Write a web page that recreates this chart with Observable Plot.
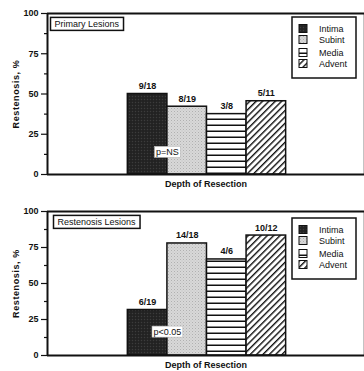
<!DOCTYPE html>
<html><head><meta charset="utf-8">
<script src="https://cdn.jsdelivr.net/npm/d3@7"></script>
<script src="https://cdn.jsdelivr.net/npm/@observablehq/plot@0.6"></script>
<style>
body{margin:0;background:#fff;}
#chart{width:364px;height:371px;overflow:hidden;}
#chart svg{display:block;}
</style></head><body>
<svg width="0" height="0" style="position:absolute">
<defs>
  <pattern id="p-intima" width="3" height="3" patternUnits="userSpaceOnUse">
    <rect width="3" height="3" fill="#262626"/>
    <rect x="0" y="0" width="1" height="1" fill="#3c3c3c"/>
    <rect x="1.5" y="1.5" width="1" height="1" fill="#141414"/>
  </pattern>
  <pattern id="p-subint" width="3" height="3" patternUnits="userSpaceOnUse">
    <rect width="3" height="3" fill="#d8d8d8"/>
    <rect x="0" y="0" width="1" height="1" fill="#b0b0b0"/>
    <rect x="1.5" y="1.5" width="1" height="1" fill="#c0c0c0"/>
  </pattern>
  <pattern id="p-media" width="6" height="6" patternUnits="userSpaceOnUse">
    <rect width="6" height="6" fill="#fff"/>
    <rect x="0" y="4.5" width="6" height="1.6" fill="#111"/>
  </pattern>
  <pattern id="p-advent" width="4.5" height="4.5" patternUnits="userSpaceOnUse" patternTransform="rotate(45)">
    <rect width="4.5" height="4.5" fill="#fff"/>
    <rect x="0" y="0" width="1.4" height="4.5" fill="#111"/>
  </pattern>
</defs></svg>
<div id="chart"></div>
<script>
const layers = ["Intima", "Subint", "Media", "Advent"];
const primaryValues = [50.0, 42.1, 37.5, 45.5];
const primaryCounts = ["9/18", "8/19", "3/8", "5/11"];
const restenosisValues = [31.6, 77.8, 66.7, 83.3];
const restenosisCounts = ["6/19", "14/18", "4/6", "10/12"];
const panelTitles = ["Primary Lesions", "Restenosis Lesions"];
const pLabels = ["p=NS", "p<0.05"];
const yTicks = [0, 25, 50, 75, 100];
const yMinorTicks = [12.5, 37.5, 62.5, 87.5];
const xLabel = "Depth of Resection";
const yLabel = "Restenosis, %";
const patternFills = ["url(#p-intima)", "url(#p-subint)", "url(#p-media)", "url(#p-advent)"];

const FONT = "'Liberation Sans', Arial, Helvetica, sans-serif";

function panel({values, counts, title, pLabel, height, marginTop, pY, legendTop, titleDx}) {
  const rows = layers.map((layer, i) => ({layer, x1: i, x2: i + 1, value: values[i], count: counts[i]}));
  const svg = Plot.plot({
    width: 364,
    height,
    marginLeft: 47,
    marginRight: 0,
    marginTop,
    marginBottom: 16,
    style: {fontFamily: FONT, fontSize: "9px", background: "white", color: "#111"},
    x: {type: "linear", domain: [-2.03, 5.98], axis: null},
    y: {domain: [0, 100], axis: null},
    color: {domain: layers, range: patternFills},
    marks: [
      Plot.rectY(rows, {x1: "x1", x2: "x2", y: "value", fill: "layer", stroke: "#111", strokeWidth: 1.5}),
      Plot.text(rows, {x: d => (d.x1 + d.x2) / 2, y: "value", text: "count", lineAnchor: "bottom", dy: -5,
        fontWeight: "bold", fontSize: 9, fill: "#111", style: "letter-spacing:1.2px"}),
      Plot.text([pLabel], {x: 1, y: pY, text: d => d, fontSize: 9, fill: "#111"}),
      Plot.text([title], {frameAnchor: "top-left", dx: titleDx, dy: 7, text: d => d, fontSize: 9, fill: "#111",
        style: "letter-spacing:0.4px"}),
      Plot.axisY(yMinorTicks, {tickSize: 3, tickFormat: () => "", label: null, stroke: "#111", strokeWidth: 1.2}),
      Plot.axisY(yTicks, {tickSize: 6, tickPadding: 3, fontWeight: "bold", fontSize: 9, stroke: "#111", strokeWidth: 1.2,
        label: yLabel, labelAnchor: "center", labelOffset: 35, labelArrow: "none"}),
      Plot.text([xLabel], {frameAnchor: "bottom", dy: 12, text: d => d, fontWeight: "bold", fontSize: 9, fill: "#111",
        style: "letter-spacing:0.8px"}),
      Plot.ruleY([100], {stroke: "#111", strokeWidth: 2}),
      Plot.ruleY([0], {stroke: "#111", strokeWidth: 2}),
      Plot.ruleX([-2.03], {stroke: "#111", strokeWidth: 2}),
      Plot.ruleX([5.98], {stroke: "#111", strokeWidth: 1.5})
    ]
  });
  document.getElementById("chart").appendChild(svg);
  const s = d3.select(svg);
  // bold y label
  s.selectAll("text").filter(function() { return this.textContent === yLabel; })
    .attr("font-weight", "bold").attr("font-size", 9).style("letter-spacing", "0.6px");
  // boxes behind title and p label
  s.selectAll("text").filter(function() { return this.textContent === title || this.textContent === pLabel; })
    .each(function() {
      const b = this.getBBox();
      const isTitle = this.textContent === title;
      const px = isTitle ? 4 : 1.5, py = isTitle ? 1.5 : 0.5;
      const r = document.createElementNS("http://www.w3.org/2000/svg", "rect");
      this.parentNode.insertBefore(r, this);
      const tr = this.getAttribute("transform");
      d3.select(r)
        .attr("transform", tr)
        .attr("x", b.x - px).attr("y", b.y - py)
        .attr("width", b.width + 2 * px).attr("height", b.height + 2 * py)
        .attr("fill", "white").attr("stroke", isTitle ? "#111" : "#bbb").attr("stroke-width", isTitle ? 1.5 : 0.6);
    });
  // legend
  const lg = s.append("g").attr("font-family", FONT).attr("font-size", 9).attr("text-anchor", "start");
  lg.append("rect").attr("x", 292).attr("y", legendTop).attr("width", 64).attr("height", 61)
    .attr("fill", "white").attr("stroke", "#111").attr("stroke-width", 1.5);
  const offs = [12, 23, 36, 47];
  layers.forEach((l, i) => {
    const yy = legendTop + offs[i];
    lg.append("rect").attr("x", 299).attr("y", yy - 4.5).attr("width", 8).attr("height", 8)
      .attr("fill", patternFills[i]).attr("stroke", "#111").attr("stroke-width", 1);
    lg.append("text").attr("x", 319).attr("y", yy).attr("dy", "0.32em").attr("fill", "#111").text(l);
  });
}

panel({values: primaryValues, counts: primaryCounts, title: panelTitles[0], pLabel: pLabels[0],
  height: 190, marginTop: 13, pY: 14, legendTop: 17, titleDx: 7});
panel({values: restenosisValues, counts: restenosisCounts, title: panelTitles[1], pLabel: pLabels[1],
  height: 181, marginTop: 21, pY: 16.5, legendTop: 218 - 190, titleDx: 10});
</script>
</body></html>
